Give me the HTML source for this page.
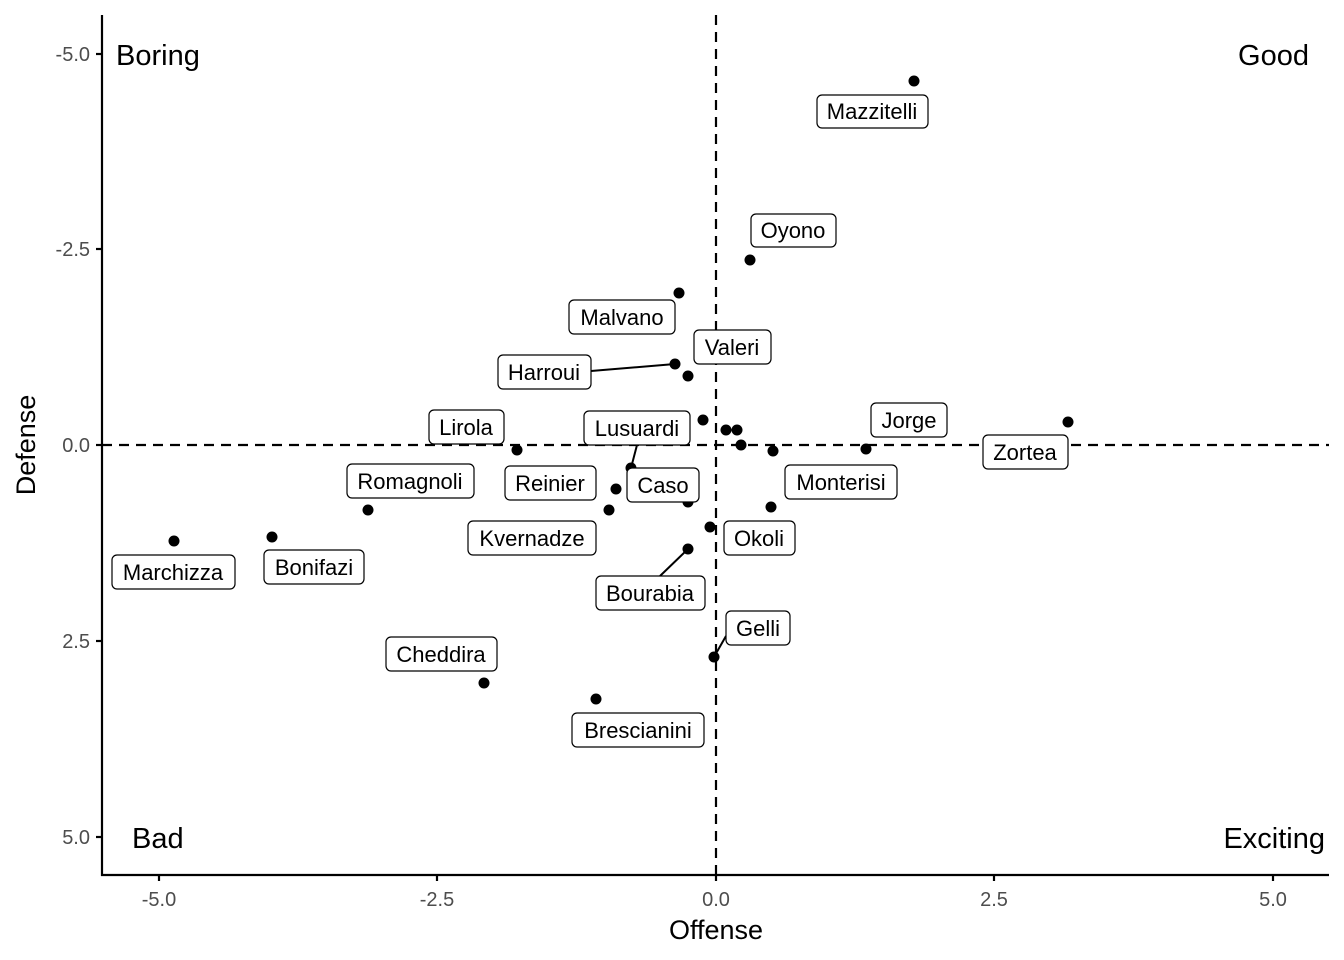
<!DOCTYPE html>
<html><head><style>body{margin:0;background:#fff}svg{display:block}text{font-family:"Liberation Sans",Arial,sans-serif}</style></head><body>
<svg width="1344" height="960" xmlns="http://www.w3.org/2000/svg">
<g stroke="#000" stroke-width="2.2" stroke-dasharray="10,7">
<line x1="716" y1="15" x2="716" y2="875"/>
<line x1="102" y1="445" x2="1329" y2="445"/>
</g>
<g stroke="#000" stroke-width="2.2">
<line x1="102" y1="15" x2="102" y2="876"/>
<line x1="101" y1="875" x2="1329" y2="875"/>
<line x1="96" y1="54" x2="102" y2="54"/><line x1="96" y1="249" x2="102" y2="249"/><line x1="96" y1="445" x2="102" y2="445"/><line x1="96" y1="641" x2="102" y2="641"/><line x1="96" y1="837" x2="102" y2="837"/>
<line x1="159" y1="875" x2="159" y2="881"/><line x1="437" y1="875" x2="437" y2="881"/><line x1="716" y1="875" x2="716" y2="881"/><line x1="994" y1="875" x2="994" y2="881"/><line x1="1273" y1="875" x2="1273" y2="881"/>
</g>
<g font-size="20" fill="#4d4d4d" text-anchor="end">
<text x="90" y="61">-5.0</text><text x="90" y="256">-2.5</text><text x="90" y="452">0.0</text><text x="90" y="648">2.5</text><text x="90" y="844">5.0</text>
</g>
<g font-size="20" fill="#4d4d4d" text-anchor="middle">
<text x="159" y="906">-5.0</text><text x="437" y="906">-2.5</text><text x="716" y="906">0.0</text><text x="994" y="906">2.5</text><text x="1273" y="906">5.0</text>
</g>
<text x="716" y="939" font-size="27" text-anchor="middle">Offense</text>
<text transform="translate(35,445) rotate(-90)" font-size="27" text-anchor="middle">Defense</text>
<g font-size="29">
<text x="116" y="65">Boring</text>
<text x="1309" y="65" text-anchor="end">Good</text>
<text x="132" y="848">Bad</text>
<text x="1325" y="848" text-anchor="end">Exciting</text>
</g>
<g stroke="#000" stroke-width="2">
<line x1="591" y1="371" x2="675" y2="364"/>
<line x1="637" y1="445" x2="631" y2="468"/>
<line x1="660" y1="576" x2="688" y2="549"/>
<line x1="714" y1="657" x2="726" y2="636"/>
</g>
<g fill="#000">
<circle cx="914" cy="81" r="5.5"/><circle cx="750" cy="260" r="5.5"/><circle cx="679" cy="293" r="5.5"/><circle cx="675" cy="364" r="5.5"/><circle cx="688" cy="376" r="5.5"/><circle cx="703" cy="420" r="5.5"/><circle cx="726" cy="430" r="5.5"/><circle cx="737" cy="430" r="5.5"/><circle cx="741" cy="445" r="5.5"/><circle cx="773" cy="451" r="5.5"/><circle cx="866" cy="449" r="5.5"/><circle cx="1068" cy="422" r="5.5"/><circle cx="517" cy="450" r="5.5"/><circle cx="631" cy="468" r="5.5"/><circle cx="616" cy="489" r="5.5"/><circle cx="609" cy="510" r="5.5"/><circle cx="688" cy="502" r="5.5"/><circle cx="771" cy="507" r="5.5"/><circle cx="710" cy="527" r="5.5"/><circle cx="688" cy="549" r="5.5"/><circle cx="174" cy="541" r="5.5"/><circle cx="272" cy="537" r="5.5"/><circle cx="368" cy="510" r="5.5"/><circle cx="714" cy="657" r="5.5"/><circle cx="484" cy="683" r="5.5"/><circle cx="596" cy="699" r="5.5"/>
</g>
<g font-size="22" text-anchor="middle">
<g fill="#fff" stroke="#000" stroke-width="1.2">
<rect x="817" y="95" width="111" height="33" rx="5"/>
<rect x="751" y="214" width="85" height="33" rx="5"/>
<rect x="569" y="300" width="106" height="34" rx="5"/>
<rect x="694" y="330" width="77" height="34" rx="5"/>
<rect x="498" y="355" width="93" height="34" rx="5"/>
<rect x="429" y="410" width="75" height="34" rx="5"/>
<rect x="584" y="411" width="106" height="34" rx="5"/>
<rect x="871" y="403" width="76" height="34" rx="5"/>
<rect x="983" y="435" width="85" height="34" rx="5"/>
<rect x="347" y="464" width="127" height="34" rx="5"/>
<rect x="505" y="466" width="91" height="34" rx="5"/>
<rect x="627" y="468" width="72" height="34" rx="5"/>
<rect x="785" y="465" width="112" height="34" rx="5"/>
<rect x="468" y="521" width="128" height="34" rx="5"/>
<rect x="724" y="521" width="71" height="34" rx="5"/>
<rect x="112" y="555" width="123" height="34" rx="5"/>
<rect x="264" y="550" width="100" height="34" rx="5"/>
<rect x="596" y="576" width="109" height="34" rx="5"/>
<rect x="726" y="611" width="64" height="34" rx="5"/>
<rect x="386" y="637" width="111" height="34" rx="5"/>
<rect x="572" y="713" width="132" height="34" rx="5"/>
</g>
<text x="872" y="119">Mazzitelli</text>
<text x="793" y="238">Oyono</text>
<text x="622" y="325">Malvano</text>
<text x="732" y="355">Valeri</text>
<text x="544" y="380">Harroui</text>
<text x="466" y="435">Lirola</text>
<text x="637" y="436">Lusuardi</text>
<text x="909" y="428">Jorge</text>
<text x="1025" y="460">Zortea</text>
<text x="410" y="489">Romagnoli</text>
<text x="550" y="491">Reinier</text>
<text x="663" y="493">Caso</text>
<text x="841" y="490">Monterisi</text>
<text x="532" y="546">Kvernadze</text>
<text x="759" y="546">Okoli</text>
<text x="173" y="580">Marchizza</text>
<text x="314" y="575">Bonifazi</text>
<text x="650" y="601">Bourabia</text>
<text x="758" y="636">Gelli</text>
<text x="441" y="662">Cheddira</text>
<text x="638" y="738">Brescianini</text>
</g>
</svg>
</body></html>
